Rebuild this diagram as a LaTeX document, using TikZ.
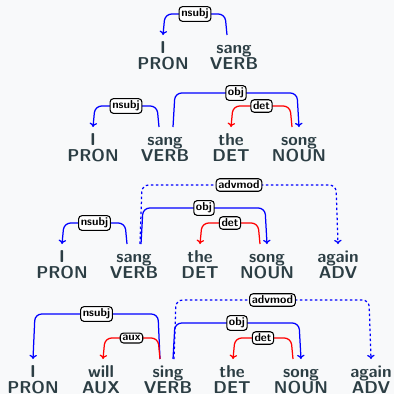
\documentclass[tikz,border=0pt]{standalone}
\usetikzlibrary{calc,arrows.meta}
\definecolor{wordcol}{RGB}{44,62,68}
\definecolor{bgcol}{RGB}{248,249,250}
\tikzset{
  word/.style={anchor=base,inner sep=0pt,text=wordcol,
    font=\sffamily\bfseries\fontsize{10.3}{12}\selectfont},
  deplabel/.style={draw=black,solid,fill=white,rounded corners=2pt,inner sep=1.3pt,
    line width=0.65pt,text=black,font=\sffamily\bfseries\fontsize{6.9}{8}\selectfont},
  arcline/.style={line width=0.75pt,rounded corners=4pt,-{To[length=2.5pt,width=4.5pt]}},
  bluearc/.style={arcline,draw=blue},
  redarc/.style={arcline,draw=red},
  dotarc/.style={bluearc,dash pattern=on 1.5pt off 1.5pt},
}
% #1 style, #2 head word, #3 head offset, #4 dependent word, #5 dependent offset,
% #6 height of the arc, #7 relation label
\newcommand\deparc[7]{%
  \draw[#1] let \p1=($(#2.base)+(#3,-18)$), \p2=($(#4.base)+(#5,-18)$), \p3=(0,#6) in
    (\p1) -- ({\x1+1.2pt*sign(\x2-\x1)},\y3)
    -- node[deplabel]{#7} ({\x2-1.2pt*sign(\x2-\x1)},\y3) -- (\p2);}
% #1 name, #2 x, #3 baseline of word, #4 word, #5 tag
\newcommand\tok[5]{%
  \node[word] (#1) at (#2,#3) {#4};
  \node[word] (#1p) at (#2,#3+16) {#5};}
\begin{document}
\begin{tikzpicture}[x=0.6pt,y=-0.6pt]
\useasboundingbox[fill=bgcol] (0,0) rectangle (394,394);

% I sang
\tok{a1}{163}{53}{I}{PRON}
\tok{a2}{234}{53}{sang}{VERB}
\deparc{bluearc}{a2}{-7}{a1}{0}{14}{nsubj}

% I sang the song
\tok{b1}{93}{145}{I}{PRON}
\tok{b2}{165}{145}{sang}{VERB}
\tok{b3}{231}{145}{the}{DET}
\tok{b4}{299}{145}{song}{NOUN}
\deparc{bluearc}{b2}{8}{b4}{0}{93}{obj}
\deparc{bluearc}{b2}{-6}{b1}{0}{106}{nsubj}
\deparc{redarc}{b4}{-7}{b3}{0}{106}{det}

% I sang the song again
\tok{c1}{62}{262}{I}{PRON}
\tok{c2}{134}{262}{sang}{VERB}
\tok{c3}{200}{262}{the}{DET}
\tok{c4}{267}{262}{song}{NOUN}
\tok{c5}{338}{262}{again}{ADV}
\deparc{dotarc}{c2}{6}{c5}{0}{185}{advmod}
\deparc{bluearc}{c2}{7}{c4}{0}{208}{obj}
\deparc{bluearc}{c2}{-7}{c1}{0}{223}{nsubj}
\deparc{redarc}{c4}{-7}{c3}{0}{223}{det}

% I will sing the song again
\tok{d1}{33}{377}{I}{PRON}
\tok{d2}{101}{377}{will}{AUX}
\tok{d3}{168}{377}{sing}{VERB}
\tok{d4}{232}{377}{the}{DET}
\tok{d5}{301}{377}{song}{NOUN}
\tok{d6}{371}{377}{again}{ADV}
\deparc{dotarc}{d3}{6}{d6}{0}{300}{advmod}
\deparc{bluearc}{d3}{-8}{d1}{0}{314}{nsubj}
\deparc{bluearc}{d3}{5}{d5}{0}{323}{obj}
\deparc{redarc}{d3}{-8}{d2}{2}{338}{aux}
\deparc{redarc}{d5}{-8}{d4}{1}{338}{det}
\end{tikzpicture}
\end{document}
